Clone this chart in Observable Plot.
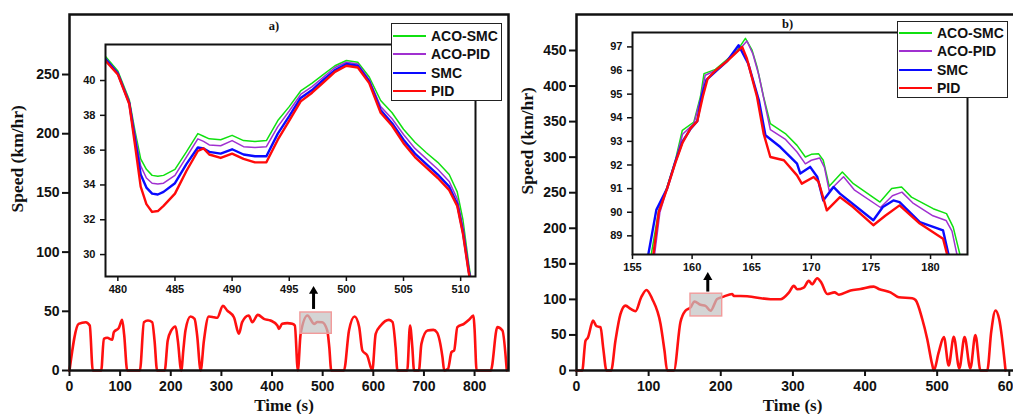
<!DOCTYPE html>
<html><head><meta charset="utf-8">
<script src="https://cdn.jsdelivr.net/npm/d3@7"></script>
<script src="https://cdn.jsdelivr.net/npm/@observablehq/plot@0.6"></script>
<style>
html,body{margin:0;padding:0;background:#fff;overflow:hidden;}
#wrap{position:relative;width:1013px;height:414px;overflow:hidden;background:#fff;}
#wrap svg{position:absolute;left:0;top:0;}
#wrap text{font-weight:bold;}
.legend{position:absolute;background:#fff;border:1.5px solid #222;box-sizing:border-box;font:bold 14px "Liberation Sans",Arial,sans-serif;color:#111;}
.legend .row{position:absolute;left:0;height:18px;display:flex;align-items:center;}
.legend .sw{width:33px;height:2.2px;margin-left:1px;margin-right:5px;}
</style>
</head><body>
<div id="wrap"></div>
<script>
// ---------- data ----------
const seriesNames = ["ACO-SMC", "ACO-PID", "SMC", "PID"];
const seriesColors = ["#10e010", "#a030d0", "#0a0aff", "#ff0a0a"];

// Panel a) full driving cycle (time s, speed km/hr)
const timeA = [0,18,32,40,46,62.6,67.8,74.5,84.4,87.6,97.5,104,108,114,139,147,155,163.4,168,173,188,194,201,209.5,214,220.7,225,229,239,247,252,259,265.5,275,285,291.6,303,311.6,324.7,334.6,341,354,361,372,384,397,410.5,413.7,420,430,440,445,451,456.5,470,483,489.6,499,509,513,517,542,552,563,572,578.4,588,598,604.7,614.6,631,638,644,647.6,667,672.5,677,680.5,690,695,707,718.6,726,736.6,740,747.6,754.4,759.6,766,779,789,797.8,800,804,832,845,855,863.6];
const speedA = [0,39.4,40.8,38,0,0,26.7,27.6,26,32.4,36,42.8,30,0,0,40.8,42.2,40.8,25,0,0,25.3,33.8,37.2,25,0,18,33.8,45.6,43.6,30,0,25.3,45.6,45,44.5,54.6,50.6,45,31,40.8,46.4,40.8,47,43.6,42.2,38,35.2,39.4,40,39.4,38,0,31,46.4,39.4,41,40.8,33.8,20,0,0,33.8,45.6,37,16.9,12.7,0,31,38,42.8,41,19.7,0,0,38,20,0,0,22.5,33.8,34.3,32,11.3,0,1.4,15.5,16.9,36.6,39.4,42.8,46.4,35,0,0,36.6,33.8,0];

// Panel a) zoom window (inset) for the four controllers
const zoomTimeA = [478.9,480,481,481.5,482,482.5,483,483.5,484,485,486,487,487.5,488,489,490,491,492,493,494,495,496,497,498,499,500,501,502,503,504,505,506,507,508,509,509.7,510.2,510.7,511];
const acoSmcA = [41.4,40.55,38.9,37.1,35.5,34.9,34.55,34.5,34.55,34.9,35.9,36.95,36.8,36.65,36.6,36.85,36.55,36.5,36.55,37.7,38.5,39.4,39.85,40.35,40.85,41.15,41.05,40.2,38.85,38.15,37.2,36.45,35.85,35.3,34.6,33.6,32.0,29.5,28.2];
const acoPidA = [41.3,40.45,38.8,36.9,35.1,34.4,34.1,34.05,34.1,34.55,35.6,36.65,36.5,36.3,36.25,36.55,36.2,36.15,36.2,37.35,38.25,39.2,39.65,40.2,40.75,41.05,40.95,40.05,38.5,37.8,36.9,36.1,35.5,34.9,34.2,33.2,31.6,29.3,28.1];
const smcA = [41.25,40.4,38.7,36.6,34.6,33.85,33.5,33.45,33.6,34.1,35.2,36.15,36.1,35.9,35.8,36.05,35.75,35.65,35.65,36.95,37.95,39.0,39.45,40.05,40.6,40.95,40.85,39.95,38.3,37.55,36.6,35.8,35.2,34.6,33.9,32.9,31.3,29.1,28.0];
const pidA = [41.15,40.35,38.65,36.3,33.9,32.9,32.45,32.5,32.8,33.5,34.8,35.95,36.1,35.75,35.55,35.8,35.5,35.3,35.3,36.6,37.7,38.8,39.3,39.9,40.5,40.85,40.75,39.85,38.15,37.4,36.4,35.6,35.0,34.4,33.7,32.8,31.2,29.0,27.9];
const zoomBoxA = {t1: 456, t2: 518, v1: 31, v2: 49};
const arrowA = {t: 482, tail: 52, tip: 70};

// Panel b) full driving cycle
const timeB = [0,7.9,12.5,15.7,23,27.7,33.3,37,41.6,48,54,61,68,75,81.8,89.7,97,105,116.5,122,125.7,135,144,151,158,163.6,171.9,178.8,185.8,195,204,215.9,218,236.6,269,282.8,294.4,301.3,306,315,322,326.6,333.7,339.3,347.5,357.7,363.8,379.9,393.7,412,419,435.3,446.8,465.4,470,479.3,486.2,493,495.4,502,509.3,516,523,530.7,538,546,553,560,569.4,575,580.9,586,594.8];
const speedB = [0,0,42,45.9,70.2,62.3,60.9,31.9,0,0,42,79.5,91.2,86.5,83.3,103,113.3,100.6,65.4,27.7,0,0,67.5,84,88.6,97.1,92.4,90.9,84,100.6,103.9,107.6,105,104.4,100.2,100.2,109.6,119,114.2,116.6,126,121.3,129.7,123.7,107.6,109.9,106.6,112.5,114.7,118,114.7,109.9,102.9,101.5,99.2,72.4,44.3,8.9,0,25,47,7,47.3,3,47,3,50,0,0,55,84.4,72,0];

// Panel b) inset: [time, speed] per controller
const acoSmcB = [[156.5,88.0],[157.2,90.08],[157.9,91.07],[158.6,92.2],[159.18,93.47],[160.15,93.82],[160.7,94.9],[161.0,95.87],[161.96,96.05],[163.0,96.5],[163.8,96.85],[164.47,97.36],[165.03,96.86],[165.45,96.15],[166.0,94.88],[166.56,93.75],[167.82,93.33],[168.8,92.83],[169.5,92.34],[170.0,92.45],[170.6,92.48],[171.0,92.2],[171.5,91.1],[172.6,91.7],[173.53,91.21],[175.76,90.43],[176.74,91.0],[177.57,91.07],[178.4,90.64],[180.22,90.15],[181.34,89.94],[181.9,89.37],[182.45,88.24],[182.6,88.0]];
const acoPidB = [[156.8,88.0],[157.3,90.0],[157.9,91.0],[158.6,92.15],[159.2,93.3],[160.15,93.75],[160.7,94.8],[161.1,95.8],[161.96,96.0],[163.0,96.45],[163.9,96.85],[164.6,97.25],[165.1,96.7],[165.6,95.8],[166.1,94.6],[166.56,93.5],[167.8,93.1],[168.8,92.55],[169.5,92.05],[170.0,92.2],[170.7,92.3],[171.1,91.9],[171.5,90.9],[172.7,91.5],[173.6,90.95],[175.8,90.2],[176.8,90.7],[177.6,90.85],[178.5,90.4],[180.2,89.85],[181.3,89.65],[181.8,89.2],[182.3,88.0]];
const smcB = [[156.25,88.0],[157.0,90.1],[157.9,91.0],[158.6,92.15],[159.2,93.0],[159.9,93.55],[160.43,93.85],[160.8,94.9],[161.2,95.6],[161.96,95.95],[162.94,96.4],[163.9,97.07],[164.7,96.3],[165.6,94.74],[166.15,93.26],[167.4,92.76],[168.8,92.06],[169.07,91.64],[169.9,91.92],[170.5,91.49],[171.0,90.5],[171.86,91.07],[172.4,90.79],[175.2,89.66],[176.0,90.22],[176.88,90.5],[177.4,90.43],[179.1,89.58],[181.05,89.23],[181.6,88.0]];
const pidB = [[156.7,88.0],[157.2,90.0],[157.9,91.0],[158.6,92.1],[159.2,92.95],[159.87,93.55],[160.43,93.85],[160.9,94.9],[161.3,95.65],[161.96,96.0],[162.94,96.4],[164.2,97.0],[164.6,96.5],[165.45,94.88],[166.0,93.33],[166.56,92.34],[167.7,92.2],[168.8,91.56],[169.2,91.21],[170.2,91.49],[170.6,91.3],[171.3,90.08],[172.4,90.64],[173.5,90.22],[175.2,89.45],[176.2,89.85],[177.4,90.29],[179.1,89.52],[181.05,88.88],[181.5,88.0]];
const zoomBoxB = {t1: 158, t2: 202, v1: 76, v2: 108};
const arrowB = {t: 182, tail: 111, tip: 136};

// tick values
const ticksXA = [0,100,200,300,400,500,600,700,800];
const ticksYA = [0,50,100,150,200,250];
const ticksXInA = [480,485,490,495,500,505,510];
const ticksYInA = [30,32,34,36,38,40];
const ticksXB = [0,100,200,300,400,500,600];
const ticksYB = [0,50,100,150,200,250,300,350,400,450];
const ticksXInB = [155,160,165,170,175,180];
const ticksYInB = [89,90,91,92,93,94,95,96,97];

// ---------- drawing ----------
const W = 1013, H = 414;
const SANS = "'Liberation Sans', Arial, sans-serif";
const SERIF = "'Liberation Serif', 'Times New Roman', serif";
const baseStyle = {background: "transparent", overflow: "visible", maxWidth: "none", fontFamily: SANS, color: "#111"};
const wrap = document.getElementById("wrap");

function rows(ts, vs) { return ts.map((t, i) => ({t, v: vs[i]})); }

function mainPlot(o) {
  const {width, left, right, top, bottom, xDomain, yDomain, xTicks, yTicks, t, v, box, arrow, title, titleDx, titleDy, ylDx, ylDy, xlDx, xlDy} = o;
  const plotH = bottom - top;
  const perPx = (yDomain[1] - yDomain[0]) / plotH;
  const headLen = 8 * perPx;
  return Plot.plot({
    width, height: H,
    marginLeft: left, marginRight: width - right, marginTop: top, marginBottom: H - bottom,
    style: baseStyle,
    x: {domain: xDomain}, y: {domain: yDomain},
    marks: [
      Plot.axisX({ticks: xTicks, tickSize: 6, tickPadding: 5, fontSize: 14, fontWeight: "bold", strokeWidth: 2, label: null}),
      Plot.axisY({ticks: yTicks, tickSize: 7, tickPadding: 3, fontSize: 14, fontWeight: "bold", strokeWidth: 2, label: null}),
      Plot.line(rows(t, v), {x: "t", y: "v", stroke: "#ff1010", strokeWidth: 2.6, curve: "monotone-x"}),
      Plot.rect([box], {x1: "t1", x2: "t2", y1: "v1", y2: "v2", fill: "#c4c4c4", fillOpacity: 0.72, stroke: "#f29a9a", strokeWidth: 1.4}),
      Plot.link([arrow], {x1: "t", x2: "t", y1: "tail", y2: d => d.tip - headLen * 0.6, stroke: "black", strokeWidth: 3}),
      Plot.dot([arrow], {x: "t", y: d => d.tip - headLen * 0.45, symbol: "triangle", r: 3.4, fill: "black", stroke: "none"}),
      Plot.frame({stroke: "#111", strokeWidth: 2.5}),
      Plot.text([title], {frameAnchor: "top", lineAnchor: "middle", dx: titleDx, dy: titleDy, fontFamily: SERIF, fontSize: 12.5, fontWeight: "bold"}),
      Plot.text(["Speed (km/hr)"], {frameAnchor: "left", lineAnchor: "middle", rotate: -90, dx: ylDx, dy: ylDy, fontFamily: SERIF, fontSize: 17.5, fontWeight: "bold"}),
      Plot.text(["Time (s)"], {frameAnchor: "bottom", lineAnchor: "middle", dx: xlDx, dy: xlDy, fontFamily: SERIF, fontSize: 17, fontWeight: "bold"})
    ]
  });
}

function insetPlot(o) {
  const {left, right, top, bottom, xDomain, yDomain, xTicks, yTicks, series} = o;
  const marks = [
    Plot.frame({fill: "white", stroke: "none"}),
    Plot.axisX({ticks: xTicks, tickSize: 5, tickPadding: 4, fontSize: 11, fontWeight: "bold", strokeWidth: 1.5, label: null, tickFormat: d3.format("d")}),
    Plot.axisY({ticks: yTicks, tickSize: 5, tickPadding: 5, fontSize: 11, fontWeight: "bold", strokeWidth: 1.5, label: null, tickFormat: d3.format("d")})
  ];
  series.forEach((s, i) => {
    marks.push(Plot.line(s, {x: "t", y: "v", stroke: seriesColors[i], strokeWidth: i < 2 ? 1.5 : 2.4, clip: true, curve: "linear"}));
  });
  marks.push(Plot.frame({stroke: "#111", strokeWidth: 2}));
  return Plot.plot({
    width: W, height: H,
    marginLeft: left, marginRight: W - right, marginTop: top, marginBottom: H - bottom,
    style: baseStyle,
    x: {domain: xDomain}, y: {domain: yDomain},
    marks
  });
}

function legend(left, top, w, h, ys) {
  const div = document.createElement("div");
  div.className = "legend";
  Object.assign(div.style, {left: left + "px", top: top + "px", width: w + "px", height: h + "px"});
  seriesNames.forEach((name, i) => {
    const r = document.createElement("div");
    r.className = "row";
    r.style.top = (ys[i] - 9) + "px";
    const sw = document.createElement("span");
    sw.className = "sw";
    sw.style.background = seriesColors[i];
    const tx = document.createElement("span");
    tx.textContent = name;
    r.appendChild(sw); r.appendChild(tx);
    div.appendChild(r);
  });
  return div;
}

// Panel a
wrap.appendChild(mainPlot({
  width: W, left: 69, right: 508, top: 14, bottom: 370,
  xDomain: [0, 867], yDomain: [0, 300.7], xTicks: ticksXA, yTicks: ticksYA,
  t: timeA, v: speedA, box: zoomBoxA, arrow: arrowA,
  title: "a)", titleDx: -15, titleDy: 11, ylDx: -52, ylDy: 20, xlDx: -5, xlDy: 35.5
}));
wrap.appendChild(insetPlot({
  left: 105, right: 475, top: 44, bottom: 276,
  xDomain: [478.92, 511.3], yDomain: [28.74, 42.07], xTicks: ticksXInA, yTicks: ticksYInA,
  series: [acoSmcA, acoPidA, smcA, pidA].map(vs => rows(zoomTimeA, vs))
}));
wrap.appendChild(legend(391, 23, 111, 78, [12, 30, 49, 67]));

// Panel b
wrap.appendChild(mainPlot({
  width: 1030, left: 576, right: 1022, top: 14, bottom: 370,
  xDomain: [0, 618.3], yDomain: [0, 500.6], xTicks: ticksXB, yTicks: ticksYB,
  t: timeB, v: speedB, box: zoomBoxB, arrow: arrowB,
  title: "b)", titleDx: -12, titleDy: 9, ylDx: -49, ylDy: 2, xlDx: -7, xlDy: 35
}));
wrap.appendChild(insetPlot({
  left: 632, right: 967, top: 32, bottom: 254,
  xDomain: [155, 183.1], yDomain: [88.21, 97.61], xTicks: ticksXInB, yTicks: ticksYInB,
  series: [acoSmcB, acoPidB, smcB, pidB].map(a => a.map(([t, v]) => ({t, v})))
}));
wrap.appendChild(legend(897, 21, 111, 77, [11, 29, 48, 66]));
</script>
</body></html>
